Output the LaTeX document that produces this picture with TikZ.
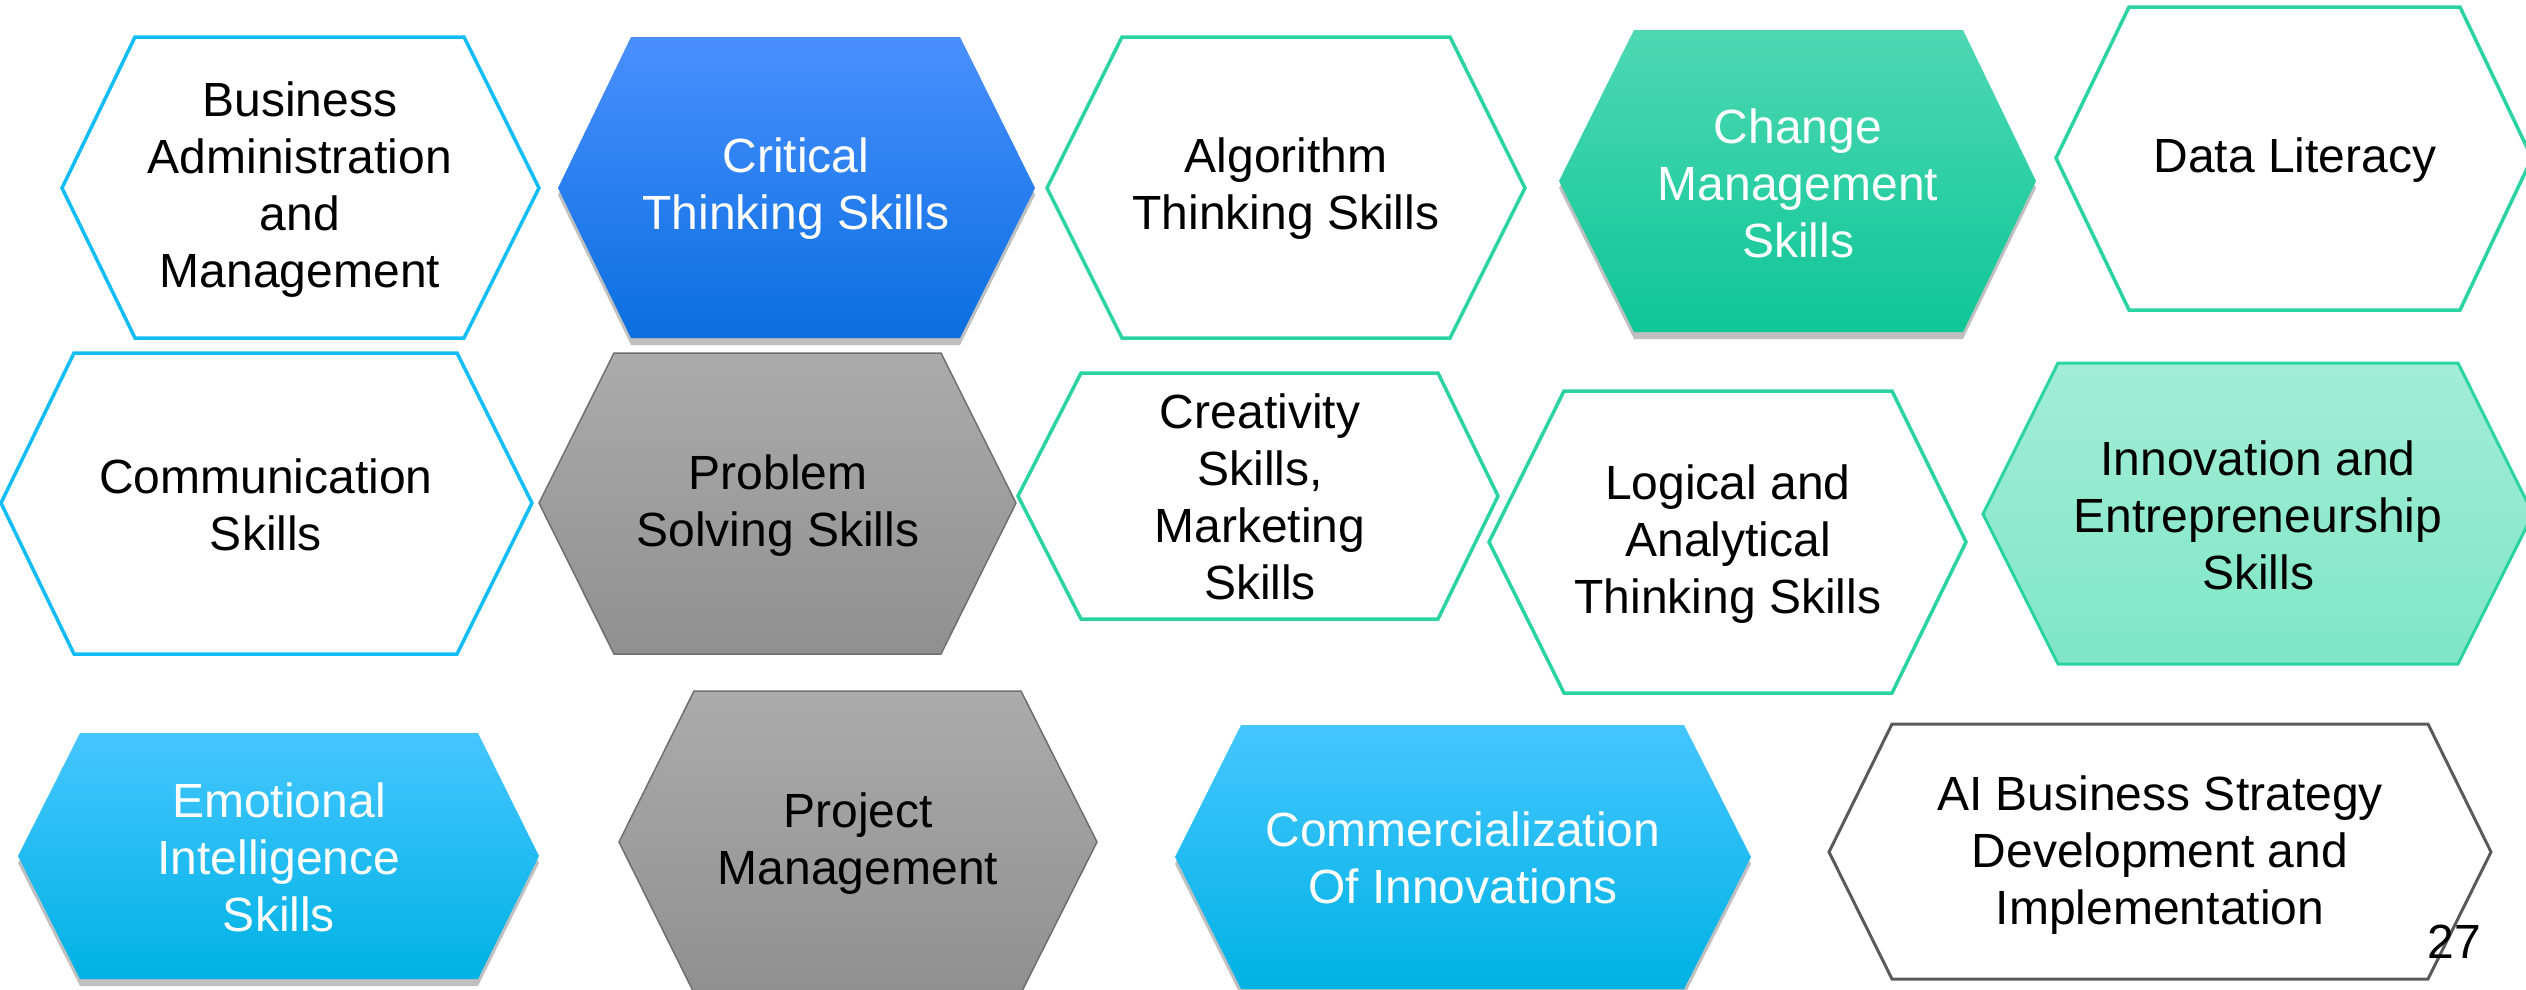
\documentclass[tikz,border=0pt]{standalone}
\usepackage{fontspec}
\setmainfont{Liberation Sans}
\usetikzlibrary{shadows}
\definecolor{cyanline}{HTML}{12BDF5}
\definecolor{tealline}{HTML}{2BD3A3}
\definecolor{grayline}{HTML}{6E6E6E}
\definecolor{darkline}{HTML}{5A5A5A}
\definecolor{blueA}{HTML}{4A8FFF}
\definecolor{blueB}{HTML}{1482FF}
\definecolor{blueC}{HTML}{0A6FE0}
\definecolor{tealA}{HTML}{4ED8B2}
\definecolor{tealB}{HTML}{17D4A8}
\definecolor{tealC}{HTML}{0EC697}
\definecolor{skyA}{HTML}{45C6FF}
\definecolor{skyB}{HTML}{00C2FF}
\definecolor{skyC}{HTML}{00B2E4}
\definecolor{grayA}{HTML}{ABABAB}
\definecolor{grayC}{HTML}{909090}
\definecolor{mintA}{HTML}{A2EDD6}
\definecolor{mintC}{HTML}{7FE6C6}
\tikzset{
  hexcyan/.style={draw=cyanline, line width=3.5pt, fill=white},
  hexteal/.style={draw=tealline, line width=3.5pt, fill=white},
  hexdark/.style={draw=darkline, line width=3pt, fill=white},
  softshadow/.style={drop shadow={shadow xshift=0pt, shadow yshift=-7pt, opacity=.25, fill=black}},
  hexblue/.style={top color=blueA, middle color=blueB, bottom color=blueC, draw=none, softshadow},
  hexgreen/.style={top color=tealA, middle color=tealB, bottom color=tealC, draw=none, softshadow},
  hexsky/.style={top color=skyA, middle color=skyB, bottom color=skyC, draw=none, softshadow},
  hexgray/.style={top color=grayA, bottom color=grayC, draw=grayline, line width=1.5pt},
  hexmint/.style={top color=mintA, bottom color=mintC, draw=tealline, line width=3pt},
  lbl/.style={align=center, font=\fontsize{48}{57}\selectfont, text=black, inner sep=0pt},
  wlbl/.style={lbl, text=white},
}
\begin{document}
\begin{tikzpicture}[x=1pt, y=-1pt]
\useasboundingbox (0,0) rectangle (2526,989);
% row 1
\path[hexcyan] (62,188) -- (135,37) -- (464,37) -- (539,188) -- (464,338) -- (135,338) -- cycle;
\node[lbl] (business) at (300,190) {Business\\Administration\\and\\Management};
\path[hexblue] (558,188) -- (631,37) -- (960,37) -- (1035,188) -- (960,338) -- (631,338) -- cycle;
\node[wlbl] (critical) at (796,189) {Critical\\Thinking Skills};
\path[hexteal] (1047,188) -- (1122,37) -- (1450,37) -- (1525,188) -- (1450,338) -- (1122,338) -- cycle;
\node[lbl] (algorithm) at (1286,189) {Algorithm\\Thinking Skills};
\path[hexgreen] (1559,181) -- (1634,30) -- (1963,30) -- (2036,181) -- (1963,332) -- (1634,332) -- cycle;
\node[wlbl] (change) at (1798,183) {Change\\Management\\Skills};
\path[hexteal] (2056,158) -- (2129,7) -- (2460,7) -- (2532,158) -- (2460,310) -- (2129,310) -- cycle;
\node[lbl] (data) at (2295,160) {Data Literacy};
% row 2
\path[hexcyan] (1,503) -- (74,353) -- (457,353) -- (532,503) -- (457,654) -- (74,654) -- cycle;
\node[lbl] (communication) at (266,505) {Communication\\Skills};
\path[hexgray] (539,503) -- (614,353) -- (941,353) -- (1016,503) -- (941,654) -- (614,654) -- cycle;
\node[lbl] (problem) at (778,506) {Problem\\Solving Skills};
\path[hexteal] (1018,496) -- (1081,373) -- (1438,373) -- (1498,496) -- (1438,619) -- (1081,619) -- cycle;
\node[lbl] (creativity) at (1260,497) {Creativity\\Skills,\\Marketing\\Skills};
\path[hexteal] (1489,542) -- (1564,391) -- (1892,391) -- (1966,542) -- (1892,693) -- (1564,693) -- cycle;
\node[lbl] (logical) at (1728,544) {Logical and\\Analytical\\Thinking Skills};
\path[hexmint] (1983,514) -- (2058,363) -- (2458,363) -- (2533,514) -- (2458,664) -- (2058,664) -- cycle;
\node[lbl] (innovation) at (2258,515) {Innovation and\\Entrepreneurship\\Skills};
% row 3
\path[hexsky] (18,856) -- (80,733) -- (478,733) -- (539,856) -- (478,979) -- (80,979) -- cycle;
\node[wlbl] (emotional) at (279,857) {Emotional\\Intelligence\\Skills};
\path[hexgray] (619,842) -- (694,691) -- (1021,691) -- (1097,842) -- (1021,993) -- (694,993) -- cycle;
\node[lbl] (project) at (858,844) {Project\\Management};
\path[hexsky] (1175,857) -- (1241,725) -- (1684,725) -- (1751,857) -- (1684,989) -- (1241,989) -- cycle;
\node[wlbl] (commercial) at (1463,858) {Commercialization\\Of Innovations};
\path[hexdark] (1829,852) -- (1892,724) -- (2428,724) -- (2491,852) -- (2428,979) -- (1892,979) -- cycle;
\node[lbl] (ai) at (2160,855) {AI Business Strategy\\Development and\\Implementation};
\node[lbl] (pagenum) at (2454,942) {27};
\end{tikzpicture}
\end{document}
